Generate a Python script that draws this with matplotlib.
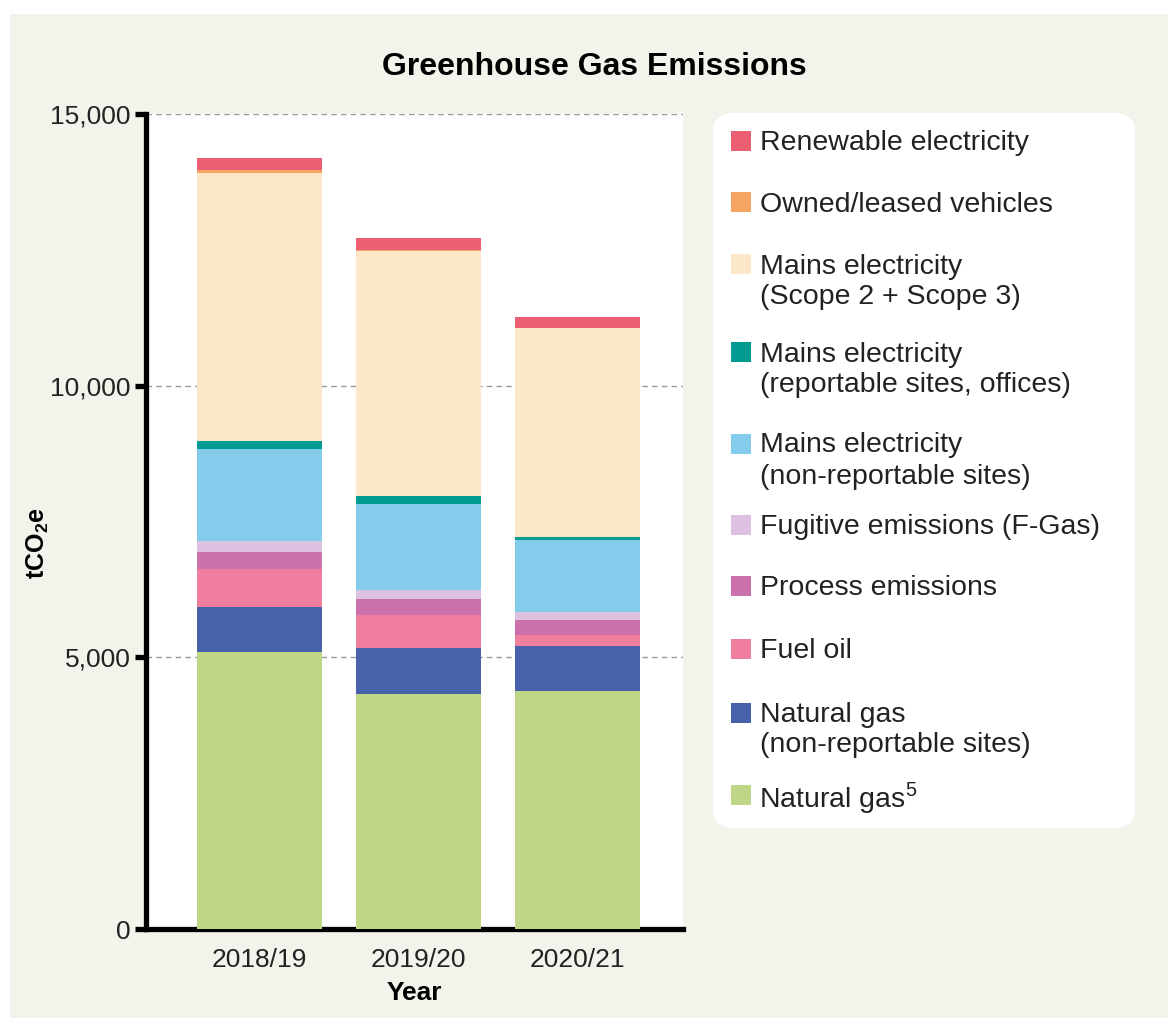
import matplotlib
matplotlib.use("Agg")
import matplotlib.pyplot as plt
from matplotlib.patches import Rectangle, FancyBboxPatch
import numpy as np

plt.rcParams['font.family'] = ['Liberation Sans', 'DejaVu Sans']
plt.rcParams['mathtext.fontset'] = 'custom'
plt.rcParams['mathtext.rm'] = 'Liberation Sans'
plt.rcParams['mathtext.bf'] = 'Liberation Sans:bold'

years = ["2018/19", "2019/20", "2020/21"]

# series, bottom to top (tCO2e)
natural_gas = [5100, 4325, 4380]
natural_gas_nr = [828, 847, 829]
fuel_oil = [700, 607, 202]
process = [313, 295, 276]
fugitive = [202, 165, 147]
mains_nr = [1693, 1583, 1326]
mains_rep = [148, 147, 55]
mains_scope = [4932, 4510, 3852]
vehicles = [55, 18, 0]
renewable = [221, 221, 203]

series = [
    ("Natural gas$^{5}$", natural_gas, "#BFD687"),
    ("Natural gas\n(non-reportable sites)", natural_gas_nr, "#4761AA"),
    ("Fuel oil", fuel_oil, "#F07E9E"),
    ("Process emissions", process, "#CB72AC"),
    ("Fugitive emissions (F-Gas)", fugitive, "#DCC2E0"),
    ("Mains electricity\n(non-reportable sites)", mains_nr, "#83CCEB"),
    ("Mains electricity\n(reportable sites, offices)", mains_rep, "#009C91"),
    ("Mains electricity\n(Scope 2 + Scope 3)", mains_scope, "#FDE7C9"),
    ("Owned/leased vehicles", vehicles, "#F5A462"),
    ("Renewable electricity", renewable, "#EC5F72"),
]

W, H = 1171, 1021
fig = plt.figure(figsize=(W / 100, H / 100), dpi=100, facecolor="white")

def fx(px):
    return px / W

def fy(py):
    return 1 - py / H

# beige panel
fig.patches.append(Rectangle((fx(10), fy(1018)), fx(1168) - fx(10), fy(14) - fy(1018),
                             transform=fig.transFigure, facecolor="#F3F2EB",
                             edgecolor="none", zorder=-10))

ax = fig.add_axes([fx(146), fy(929), fx(683) - fx(146), fy(114) - fy(929)])
ax.set_zorder(5)
ax.set_facecolor("white")

x = np.arange(len(years))
bottom = np.zeros(len(years))
for name, vals, col in series:
    v = np.array(vals, dtype=float)
    ax.bar(x, v, bottom=bottom, width=0.787, color=col, edgecolor="none", zorder=3)
    bottom += v

ax.set_xlim(-0.714, 2.664)
ax.set_ylim(0, 15000)
ax.set_yticks([0, 5000, 10000, 15000])
ax.set_yticklabels(["0", "5,000", "10,000", "15,000"])
ax.set_xticks(x)
ax.set_xticklabels(years)
ax.yaxis.grid(True, linestyle=(0, (4, 3)), color="#999999", linewidth=1.0, zorder=0)
ax.set_axisbelow(True)

for s in ["top", "right"]:
    ax.spines[s].set_visible(False)
ax.spines["left"].set_linewidth(3.8)
ax.spines["bottom"].set_linewidth(3.8)
ax.tick_params(axis="y", length=8, width=3.8, pad=3, labelsize=19, labelcolor="#222222")
ax.tick_params(axis="x", length=0, pad=14, labelsize=19, labelcolor="#222222")

ax.set_xlabel("Year", fontsize=19, fontweight="bold", labelpad=6)
fig.text(fx(38), fy(543), r"$\mathbf{tCO_2e}$", rotation=90, fontsize=18,
         ha="center", va="center")

fig.text(fx(594), fy(67), "Greenhouse Gas Emissions", fontsize=23, fontweight="bold",
         ha="center", va="center")

# legend box
fig.patches.append(FancyBboxPatch((fx(713), fy(828)), fx(1135) - fx(713), fy(113) - fy(828),
                                  boxstyle="round,pad=0,rounding_size=0.018",
                                  transform=fig.transFigure, facecolor="white",
                                  edgecolor="none", zorder=1))

legend_rows = [141.5, 202.5, 264.5, 352.5, 443.5, 524.5, 585.5, 648.5, 712.5, 794.5]
for (name, vals, col), yc in zip(series[::-1], legend_rows):
    fig.patches.append(Rectangle((fx(731), fy(yc + 10)), fx(751) - fx(731), fy(yc - 10) - fy(yc + 10),
                                 transform=fig.transFigure, facecolor=col,
                                 edgecolor="none", zorder=2))
    ty = yc + 2
    if "\n" in name:
        l1, l2 = name.split("\n")
        fig.text(fx(760), fy(ty), l1, fontsize=20.5, color="#222222", ha="left", va="center")
        fig.text(fx(760), fy(ty + 31), l2, fontsize=20.5, color="#222222", ha="left", va="center")
    elif "$" in name:
        fig.text(fx(759), fy(ty + 2), name, fontsize=20.5, color="#222222", ha="left", va="center")
    else:
        fig.text(fx(760), fy(ty), name, fontsize=20.5, color="#222222", ha="left", va="center")

fig.savefig("out.png", dpi=100, facecolor=fig.get_facecolor())
